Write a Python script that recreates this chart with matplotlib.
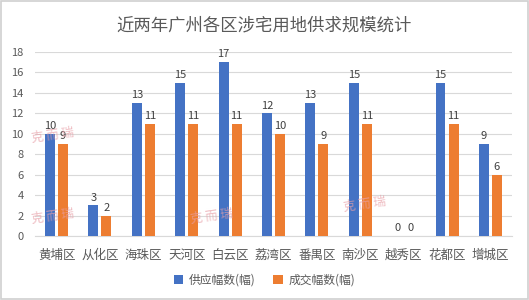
import numpy as np
import matplotlib.pyplot as plt
from matplotlib.patches import Rectangle

plt.rcParams['font.family'] = ['Noto Sans CJK SC', 'DejaVu Sans']

districts = ['黄埔区', '从化区', '海珠区', '天河区', '白云区', '荔湾区', '番禺区', '南沙区', '越秀区', '花都区', '增城区']
supply = [10, 3, 13, 15, 17, 12, 13, 15, 0, 15, 9]
deal = [9, 2, 11, 11, 11, 10, 9, 11, 0, 11, 6]

fig = plt.figure(figsize=(5.29, 3.0), dpi=100)
ax = fig.add_axes([0.066, 0.213, 0.902, 0.614])

x = np.arange(len(districts))
w = 0.23
off = w / 2 + 0.035
b1 = ax.bar(x - off, supply, w, color='#4472C4', label='供应幅数(幅)', zorder=3)
b2 = ax.bar(x + off, deal, w, color='#ED7D31', label='成交幅数(幅)', zorder=3)
for bars in (b1, b2):
    ax.bar_label(bars, padding=2, fontsize=8, color='#404040')

ax.set_xlim(-0.5, len(districts) - 0.5)
ax.set_ylim(0, 18)
ax.set_yticks(range(0, 19, 2))
ax.set_xticks(x)
ax.set_xticklabels(districts, fontsize=9, color='#595959')
ax.tick_params(axis='y', labelsize=8, labelcolor='#595959', length=0, pad=8)
ax.tick_params(axis='x', length=0, pad=9)
ax.grid(axis='y', color='#D9D9D9', linewidth=0.8, zorder=0)
for s in ['top', 'right', 'left']:
    ax.spines[s].set_visible(False)
ax.spines['bottom'].set_color('#D9D9D9')

fig.text(0.5, 0.915, '近两年广州各区涉宅用地供求规模统计', ha='center', va='center',
         fontsize=12.5, color='#595959')
fig.legend(loc='center', bbox_to_anchor=(0.5, 0.065), ncol=2, frameon=False,
           fontsize=8.5, handlelength=0.8, handleheight=0.8, columnspacing=1.5,
           handletextpad=0.5, labelcolor='#595959')

# watermarks
for wx, wy in [(0.1, 0.55), (0.1, 0.28), (0.4, 0.28), (0.69, 0.32)]:
    fig.text(wx, wy, '克 而 瑞', fontsize=9, color='#E8A0A8', alpha=0.7,
             rotation=8, ha='center', va='center')

fig.add_artist(Rectangle((0.002, 0.004), 0.996, 0.992, transform=fig.transFigure,
                         fill=False, edgecolor='#D0D0D0', linewidth=1.2))

fig.savefig('out.png', dpi=100)
